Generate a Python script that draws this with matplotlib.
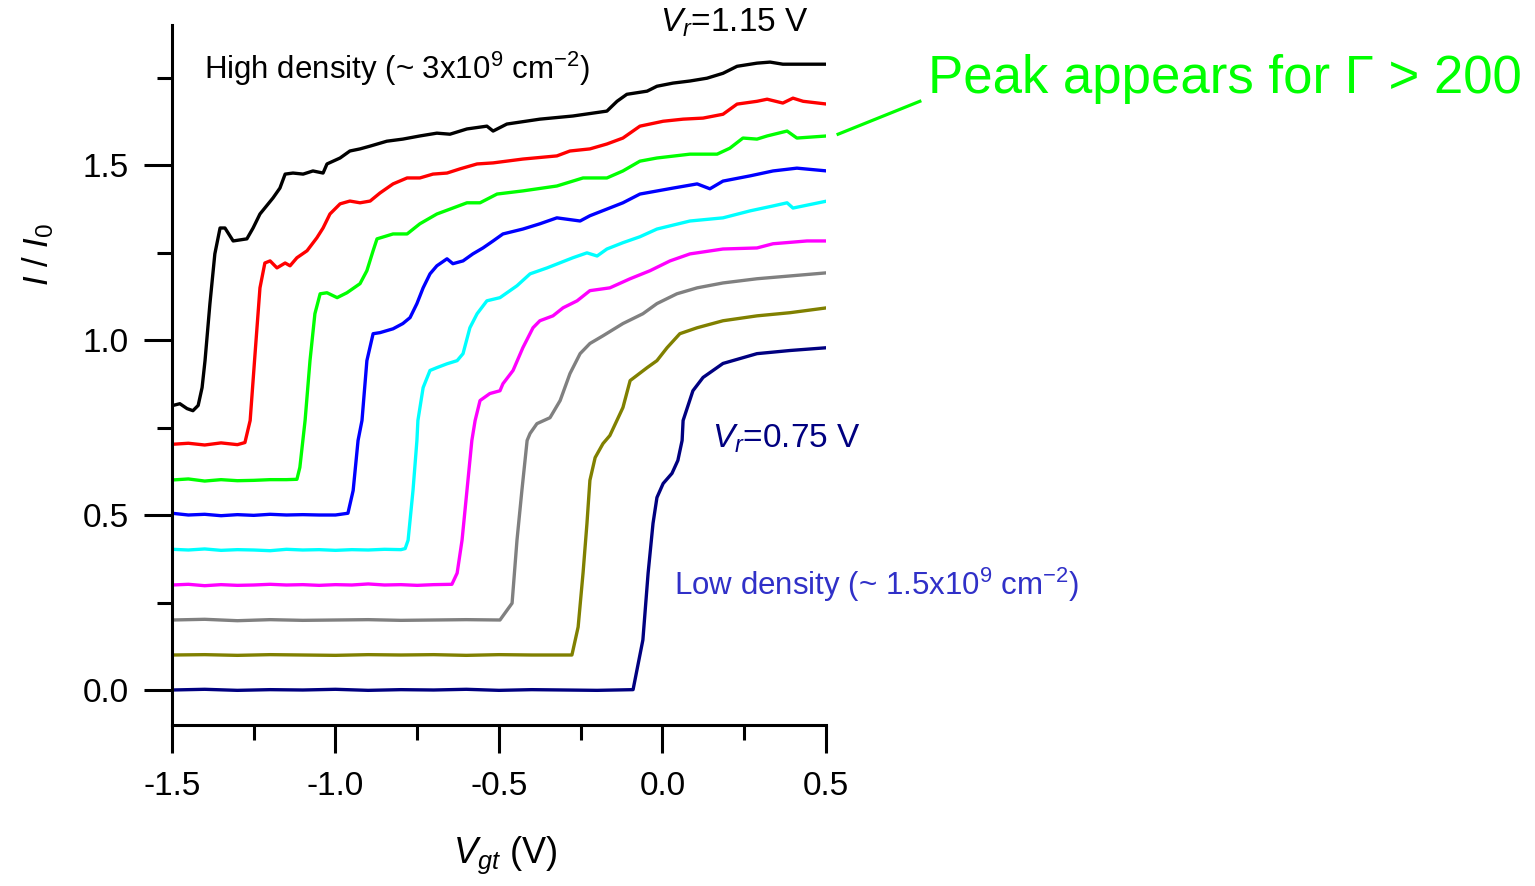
import matplotlib
matplotlib.use("Agg")
import matplotlib.pyplot as plt
from matplotlib.ticker import MultipleLocator, FormatStrFormatter

plt.rcParams['font.family'] = ['Liberation Sans', 'DejaVu Sans']
plt.rcParams['mathtext.fontset'] = 'custom'
plt.rcParams['mathtext.rm'] = 'Liberation Sans'
plt.rcParams['mathtext.it'] = 'Liberation Sans:italic'
plt.rcParams['mathtext.sf'] = 'Liberation Sans'
plt.rcParams['axes.unicode_minus'] = False

# ---- gate-voltage sweeps, I/I0 vs Vgt, successive traces offset by 0.1 ----
# Vr = 1.15 V (high density)
vgt_black = [-1.497, -1.476, -1.454, -1.436, -1.420, -1.408, -1.399, -1.384, -1.369, -1.353,
             -1.338, -1.313, -1.271, -1.252, -1.231, -1.191, -1.170, -1.154, -1.130, -1.099,
             -1.069, -1.038, -1.026, -0.986, -0.956, -0.925, -0.894, -0.843, -0.794, -0.742,
             -0.690, -0.650, -0.598, -0.537, -0.518, -0.476, -0.375, -0.274, -0.170, -0.139,
             -0.109, -0.047, -0.017, 0.032, 0.084, 0.136, 0.185, 0.228, 0.289, 0.329,
             0.368, 0.420, 0.503]
i_black = [0.813, 0.818, 0.804, 0.798, 0.813, 0.864, 0.941, 1.104, 1.246, 1.320,
           1.320, 1.283, 1.289, 1.320, 1.360, 1.406, 1.434, 1.474, 1.477, 1.474,
           1.483, 1.477, 1.503, 1.520, 1.540, 1.546, 1.554, 1.568, 1.574, 1.583,
           1.591, 1.588, 1.603, 1.611, 1.597, 1.617, 1.631, 1.640, 1.654, 1.682,
           1.702, 1.711, 1.725, 1.734, 1.740, 1.748, 1.762, 1.782, 1.791, 1.794,
           1.788, 1.788, 1.788]

vgt_red = [-1.500, -1.450, -1.400, -1.350, -1.300, -1.277, -1.261, -1.246, -1.231, -1.216,
           -1.200, -1.179, -1.154, -1.139, -1.118, -1.087, -1.057, -1.038, -1.017, -0.986,
           -0.956, -0.925, -0.894, -0.864, -0.824, -0.781, -0.742, -0.702, -0.659, -0.619,
           -0.567, -0.518, -0.427, -0.323, -0.283, -0.222, -0.170, -0.121, -0.069, 0.002,
           0.063, 0.124, 0.185, 0.228, 0.289, 0.320, 0.368, 0.399, 0.430, 0.503]
i_red = [0.702, 0.705, 0.700, 0.706, 0.701, 0.707, 0.770, 0.961, 1.149, 1.220,
         1.226, 1.206, 1.220, 1.212, 1.235, 1.255, 1.292, 1.320, 1.360, 1.389,
         1.397, 1.392, 1.397, 1.420, 1.446, 1.463, 1.463, 1.474, 1.477, 1.489,
         1.503, 1.506, 1.517, 1.526, 1.540, 1.546, 1.560, 1.577, 1.611, 1.625,
         1.631, 1.634, 1.645, 1.674, 1.682, 1.688, 1.677, 1.691, 1.682, 1.674]

vgt_green = [-1.500, -1.450, -1.400, -1.350, -1.300, -1.250, -1.200, -1.150, -1.118, -1.109,
             -1.093, -1.078, -1.063, -1.047, -1.026, -0.995, -0.965, -0.925, -0.904, -0.885,
             -0.873, -0.824, -0.781, -0.742, -0.690, -0.641, -0.598, -0.558, -0.506, -0.427,
             -0.323, -0.243, -0.170, -0.121, -0.069, -0.017, 0.084, 0.167, 0.206, 0.246,
             0.289, 0.320, 0.381, 0.411, 0.503]
i_green = [0.600, 0.603, 0.597, 0.601, 0.598, 0.599, 0.601, 0.601, 0.602, 0.636,
           0.770, 0.941, 1.075, 1.132, 1.135, 1.121, 1.135, 1.161, 1.198, 1.255,
           1.289, 1.303, 1.303, 1.332, 1.360, 1.377, 1.392, 1.392, 1.417, 1.426,
           1.440, 1.463, 1.463, 1.483, 1.511, 1.520, 1.531, 1.531, 1.548, 1.577,
           1.574, 1.583, 1.597, 1.577, 1.583]

vgt_blue = [-1.500, -1.450, -1.400, -1.350, -1.300, -1.250, -1.200, -1.150, -1.100, -1.050,
            -1.000, -0.962, -0.946, -0.931, -0.919, -0.904, -0.885, -0.864, -0.824, -0.794,
            -0.772, -0.751, -0.732, -0.711, -0.690, -0.659, -0.641, -0.610, -0.580, -0.549,
            -0.518, -0.488, -0.427, -0.375, -0.323, -0.252, -0.222, -0.121, -0.069, 0.032,
            0.106, 0.145, 0.185, 0.268, 0.338, 0.411, 0.503]
i_blue = [0.505, 0.500, 0.502, 0.498, 0.501, 0.499, 0.502, 0.500, 0.501, 0.500,
          0.500, 0.505, 0.570, 0.713, 0.770, 0.941, 1.018, 1.021, 1.032, 1.047,
          1.064, 1.104, 1.149, 1.189, 1.212, 1.232, 1.218, 1.226, 1.246, 1.263,
          1.283, 1.303, 1.317, 1.332, 1.349, 1.340, 1.355, 1.392, 1.417, 1.434,
          1.446, 1.432, 1.454, 1.469, 1.483, 1.491, 1.483]

vgt_cyan = [-1.500, -1.450, -1.400, -1.350, -1.300, -1.250, -1.200, -1.150, -1.100, -1.050,
            -1.000, -0.950, -0.900, -0.850, -0.800, -0.787, -0.778, -0.763, -0.751, -0.748,
            -0.732, -0.711, -0.690, -0.659, -0.628, -0.610, -0.589, -0.567, -0.537, -0.497,
            -0.445, -0.405, -0.353, -0.274, -0.231, -0.200, -0.170, -0.121, -0.069, -0.017,
            0.084, 0.185, 0.268, 0.338, 0.381, 0.399, 0.503]
i_cyan = [0.402, 0.400, 0.403, 0.399, 0.401, 0.400, 0.398, 0.402, 0.400, 0.401,
          0.399, 0.401, 0.400, 0.402, 0.401, 0.404, 0.428, 0.570, 0.713, 0.770,
          0.864, 0.913, 0.921, 0.932, 0.941, 0.961, 1.035, 1.075, 1.112, 1.121,
          1.155, 1.189, 1.206, 1.235, 1.249, 1.240, 1.260, 1.278, 1.295, 1.317,
          1.340, 1.349, 1.369, 1.383, 1.392, 1.377, 1.397]

vgt_magenta = [-1.500, -1.450, -1.400, -1.350, -1.300, -1.250, -1.200, -1.150, -1.100, -1.050,
               -1.000, -0.950, -0.900, -0.850, -0.800, -0.750, -0.700, -0.644, -0.628, -0.613,
               -0.598, -0.583, -0.573, -0.558, -0.528, -0.497, -0.488, -0.457, -0.427, -0.396,
               -0.375, -0.335, -0.304, -0.261, -0.222, -0.161, -0.099, -0.038, 0.023, 0.084,
               0.185, 0.289, 0.338, 0.442, 0.503]
i_magenta = [0.300, 0.302, 0.298, 0.301, 0.299, 0.300, 0.302, 0.300, 0.301, 0.299,
             0.301, 0.300, 0.303, 0.300, 0.301, 0.299, 0.301, 0.302, 0.334, 0.428,
             0.570, 0.713, 0.770, 0.827, 0.847, 0.855, 0.875, 0.913, 0.978, 1.035,
             1.055, 1.069, 1.092, 1.112, 1.141, 1.149, 1.175, 1.198, 1.226, 1.246,
             1.260, 1.263, 1.275, 1.283, 1.283]

vgt_gray = [-1.500, -1.400, -1.300, -1.200, -1.100, -1.000, -0.900, -0.800, -0.700, -0.600,
            -0.497, -0.460, -0.445, -0.430, -0.414, -0.405, -0.384, -0.344, -0.313, -0.283,
            -0.252, -0.222, -0.182, -0.121, -0.060, -0.017, 0.044, 0.106, 0.185, 0.289,
            0.390, 0.503]
i_gray = [0.200, 0.202, 0.198, 0.201, 0.199, 0.200, 0.201, 0.199, 0.200, 0.201,
          0.200, 0.248, 0.428, 0.570, 0.713, 0.733, 0.761, 0.778, 0.827, 0.904,
          0.961, 0.990, 1.012, 1.047, 1.075, 1.104, 1.132, 1.149, 1.163, 1.175,
          1.183, 1.192]

vgt_olive = [-1.500, -1.400, -1.300, -1.200, -1.100, -1.000, -0.900, -0.800, -0.700, -0.600,
             -0.500, -0.400, -0.300, -0.277, -0.258, -0.243, -0.231, -0.222, -0.206, -0.182,
             -0.161, -0.121, -0.099, -0.047, -0.017, 0.014, 0.053, 0.106, 0.185, 0.289,
             0.390, 0.503]
i_olive = [0.100, 0.101, 0.099, 0.101, 0.100, 0.099, 0.101, 0.100, 0.101, 0.099,
           0.101, 0.100, 0.100, 0.100, 0.180, 0.334, 0.476, 0.599, 0.664, 0.704,
           0.727, 0.807, 0.884, 0.921, 0.941, 0.978, 1.018, 1.035, 1.055, 1.069,
           1.078, 1.092]

# Vr = 0.75 V (low density)
vgt_navy = [-1.500, -1.400, -1.300, -1.200, -1.100, -1.000, -0.900, -0.800, -0.700, -0.600,
            -0.500, -0.400, -0.300, -0.200, -0.090, -0.060, -0.044, -0.029, -0.017, 0.002,
            0.029, 0.047, 0.060, 0.063, 0.093, 0.124, 0.185, 0.289, 0.390, 0.503]
i_navy = [0.000, 0.002, -0.001, 0.001, 0.000, 0.002, -0.001, 0.001, 0.000, 0.002,
          -0.001, 0.001, 0.000, -0.001, 0.001, 0.143, 0.334, 0.476, 0.550, 0.590,
          0.619, 0.656, 0.713, 0.770, 0.855, 0.893, 0.933, 0.961, 0.970, 0.978]

traces = [
    (vgt_black, i_black, '#000000'),
    (vgt_red, i_red, '#ff0000'),
    (vgt_green, i_green, '#00ff00'),
    (vgt_blue, i_blue, '#0000ff'),
    (vgt_cyan, i_cyan, '#00ffff'),
    (vgt_magenta, i_magenta, '#ff00ff'),
    (vgt_gray, i_gray, '#808080'),
    (vgt_olive, i_olive, '#808000'),
    (vgt_navy, i_navy, '#000080'),
]

fig = plt.figure(figsize=(15.35, 8.86), dpi=100)
ax = fig.add_axes([172 / 1535, 161 / 886, 654 / 1535, 700 / 886])

for x, y, c in traces:
    ax.plot(x, y, color=c, lw=2.4, solid_joinstyle='round')

ax.set_xlim(-1.5, 0.5)
ax.set_ylim(-0.1, 1.9)

for side in ('top', 'right'):
    ax.spines[side].set_visible(False)
for side in ('left', 'bottom'):
    ax.spines[side].set_linewidth(2.2)

ax.xaxis.set_major_locator(MultipleLocator(0.5))
ax.xaxis.set_minor_locator(MultipleLocator(0.25))
ax.yaxis.set_major_locator(MultipleLocator(0.5))
ax.yaxis.set_minor_locator(MultipleLocator(0.25))
ax.xaxis.set_major_formatter(FormatStrFormatter('%.1f'))
ax.yaxis.set_major_formatter(FormatStrFormatter('%.1f'))
ax.tick_params(which='major', direction='out', length=20, width=2.2, labelsize=24)
ax.tick_params(axis='x', which='major', pad=13)
ax.tick_params(axis='y', which='major', pad=11)
ax.tick_params(which='minor', direction='out', length=11, width=2.2)

# axis titles
fig.text(38 / 1535, 1 - 255 / 886, r'$\mathit{I}$ / $\mathit{I_0}$', rotation=90,
         ha='center', va='center', fontsize=25)
fig.text(505 / 1535, 1 - 855 / 886, r'$\mathit{V_{gt}}$ (V)',
         ha='center', va='center', fontsize=26)

# annotations
ax.text(-1.402, 1.774, r'High density (~ 3x10$^{9}$ cm$^{-2}$)', fontsize=22.5,
        ha='left', va='center', color='black')
ax.text(-0.008, 1.905, r'$\mathit{V_r}$=1.15 V', fontsize=24,
        ha='left', va='center', color='black', clip_on=False)
ax.text(0.151, 0.719, r'$\mathit{V_r}$=0.75 V', fontsize=24,
        ha='left', va='center', color='#000080', clip_on=False)
ax.text(0.035, 0.30, r'Low density (~ 1.5x10$^{9}$ cm$^{-2}$)', fontsize=22.5,
        ha='left', va='center', color='#3030c8', clip_on=False)
ax.text(0.812, 1.745, r'Peak appears for Γ > 200', fontsize=38,
        ha='left', va='center', color='#00ff00', clip_on=False)
ax.plot([0.537, 0.787], [1.588, 1.682], color='#00ff00', lw=2.3, clip_on=False)

fig.savefig('out.png', dpi=100)
